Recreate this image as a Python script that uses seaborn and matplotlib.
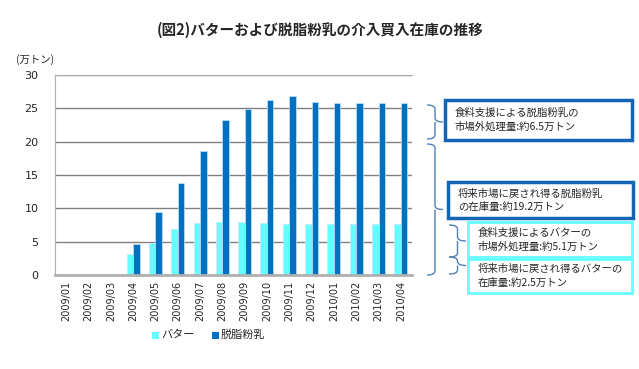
import matplotlib
matplotlib.use("Agg")
import matplotlib.pyplot as plt
import seaborn as sns
import pandas as pd
from matplotlib.patches import Rectangle, PathPatch
from matplotlib.path import Path
from matplotlib.lines import Line2D

months = ["2009/01", "2009/02", "2009/03", "2009/04", "2009/05", "2009/06", "2009/07", "2009/08",
          "2009/09", "2009/10", "2009/11", "2009/12", "2010/01", "2010/02", "2010/03", "2010/04"]
butter = [0, 0, 0, 3.15, 4.8, 6.85, 7.8, 7.9, 7.9, 7.8, 7.65, 7.65, 7.65, 7.65, 7.65, 7.65]
skim_milk = [0, 0, 0, 4.65, 9.5, 13.75, 18.6, 23.25, 24.9, 26.25, 26.85, 26.0, 25.85, 25.75, 25.75, 25.75]
series_names = ["バター", "脱脂粉乳"]
yticks = [0, 5, 10, 15, 20, 25, 30]

title = "(図2)バターおよび脱脂粉乳の介入買入在庫の推移"
unit_label = "(万トン)"
notes = ["食料支援による脱脂粉乳の\n市場外処理量:約6.5万トン",
         "将来市場に戻され得る脱脂粉乳\nの在庫量:約19.2万トン",
         "食料支援によるバターの\n市場外処理量:約5.1万トン",
         "将来市場に戻され得るバターの\n在庫量:約2.5万トン"]

sns.set_style("white")
plt.rcParams["font.family"] = ["Noto Sans CJK JP", "DejaVu Sans"]

W, H = 639, 369
fig = plt.figure(figsize=(W / 100, H / 100), dpi=100)
ax = fig.add_axes([55 / W, 1 - 275 / H, (412 - 55) / W, 200 / H])

df = pd.DataFrame({
    "month": months * 2,
    "value": butter + skim_milk,
    "series": [series_names[0]] * len(months) + [series_names[1]] * len(months),
})
palette = {series_names[0]: "#66FFFF", series_names[1]: "#0070C0"}
sns.barplot(data=df, x="month", y="value", hue="series", palette=palette, ax=ax,
            width=0.58, saturation=1, edgecolor="#BFE6FF", linewidth=0.5, legend=False)

ax.set_ylim(0, 30)
ax.set_xlim(-0.5, len(months) - 0.5)
ax.set_yticks(yticks)
ax.set_yticklabels([str(v) for v in yticks], fontsize=8, family="DejaVu Sans")
ax.tick_params(axis="y", length=0, pad=12)
ax.tick_params(axis="x", length=0, pad=4)
ax.set_xticks(range(len(months)))
ax.set_xticklabels(months, rotation=90, fontsize=7, family="DejaVu Sans")
ax.set_xlabel("")
ax.set_ylabel("")
ax.grid(axis="y", color="#808080", linewidth=1)
ax.set_axisbelow(True)
for s in ["right"]:
    ax.spines[s].set_visible(False)
ax.spines["top"].set_color("#B0B0B0")
ax.spines["left"].set_color("#B0B0B0")
ax.spines["bottom"].set_color("#B0B0B0")
ax.spines["bottom"].set_linewidth(2)

def fx(x):
    return x / W

def fy(y):
    return 1 - y / H

fig.text(fx(320), fy(30), title, ha="center", va="center", fontsize=10.5, fontweight="bold")
fig.text(fx(35), fy(60), unit_label, ha="center", va="center", fontsize=7.5)

# legend
for xs, name in [(152, series_names[0]), (212, series_names[1])]:
    fig.patches.append(Rectangle((fx(xs), fy(339)), 7 / W, 7 / H, transform=fig.transFigure,
                                 facecolor=palette[name], edgecolor="none"))
    fig.text(fx(xs + 9), fy(335), name, ha="left", va="center", fontsize=8)

# boxes
boxes = [(445, 100, 632, 140, "#1565B5", 2.5),
         (448, 182, 633, 218, "#1565B5", 2.5),
         (468, 222, 632, 257, "#66FFFF", 2.0),
         (468, 259, 632, 293, "#66FFFF", 2.0)]
for (x0, y0, x1, y1, col, lw), txt in zip(boxes, notes):
    fig.patches.append(Rectangle((fx(x0), fy(y1)), (x1 - x0) / W, (y1 - y0) / H,
                                 transform=fig.transFigure, facecolor="white",
                                 edgecolor=col, linewidth=lw))
    fig.text(fx(x0 + 10), fy((y0 + y1) / 2), txt, ha="left", va="center",
             fontsize=7.5, linespacing=1.4)

def brace(x0, x1, ytop, ybot, color="#4F81BD"):
    xm = (x0 + x1) / 2
    ym = (ytop + ybot) / 2
    r = min(4, (ybot - ytop) / 4)
    verts = [(x0, ytop), (xm, ytop), (xm, ytop + r), (xm, ym - r), (xm, ym), (x1, ym),
             (xm, ym), (xm, ym + r), (xm, ybot - r), (xm, ybot), (x0, ybot)]
    codes = [Path.MOVETO, Path.CURVE3, Path.CURVE3, Path.LINETO, Path.CURVE3, Path.CURVE3,
             Path.MOVETO, Path.CURVE3, Path.LINETO, Path.CURVE3, Path.CURVE3]
    verts = [(fx(a), fy(b)) for a, b in verts]
    fig.patches.append(PathPatch(Path(verts, codes), transform=fig.transFigure,
                                 facecolor="none", edgecolor=color, linewidth=1))

brace(427, 443, 105, 139)
brace(427, 443, 144, 275)
brace(449, 466, 225, 257)
brace(449, 466, 257, 274)

fig.savefig("out.png", dpi=100)
